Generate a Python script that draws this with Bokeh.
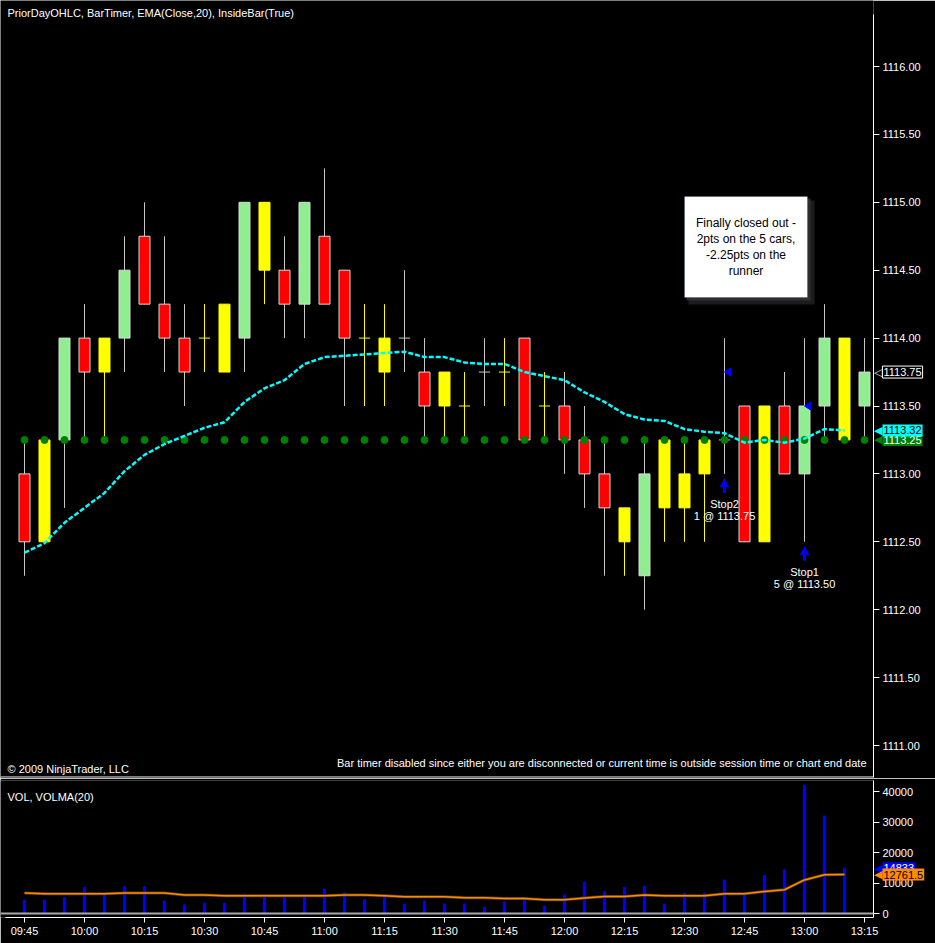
from bokeh.plotting import figure
from bokeh.layouts import column
from bokeh.models import (Range1d, FixedTicker, PrintfTickFormatter, Label, BoxAnnotation,
                          Span, Arrow, NormalHead, ColumnDataSource)
from bokeh.core.properties import value
from bokeh.embed import file_html
from bokeh.resources import INLINE

# ---------------- data ----------------
opens = [1113.00, 1112.50, 1113.25, 1114.00, 1114.00, 1114.00, 1114.75, 1114.25, 1114.00, 1114.00,
         1113.75, 1114.00, 1115.00, 1114.50, 1114.25, 1114.75, 1114.50, 1114.00, 1114.00, 1114.00,
         1113.75, 1113.75, 1113.50, 1113.75, 1113.75, 1114.00, 1113.50, 1113.50, 1113.25, 1113.00,
         1112.75, 1112.25, 1113.25, 1113.00, 1113.25, 1113.25, 1113.50, 1113.50, 1113.50, 1113.00,
         1113.50, 1114.00, 1113.50]
highs = [1113.25, 1113.25, 1114.00, 1114.25, 1114.00, 1114.75, 1115.00, 1114.75, 1114.25, 1114.25,
         1114.25, 1115.00, 1115.00, 1114.75, 1115.00, 1115.25, 1114.50, 1114.25, 1114.25, 1114.50,
         1114.00, 1113.75, 1113.75, 1114.00, 1114.00, 1114.00, 1113.75, 1113.75, 1113.50, 1113.25,
         1112.75, 1113.25, 1113.25, 1113.25, 1113.25, 1114.00, 1113.50, 1113.50, 1113.75, 1114.00,
         1114.25, 1114.00, 1114.00]
lows = [1112.25, 1112.50, 1112.75, 1113.25, 1113.25, 1113.75, 1114.25, 1113.75, 1113.50, 1113.75,
        1113.75, 1113.75, 1114.25, 1114.00, 1114.00, 1114.25, 1113.50, 1113.50, 1113.50, 1113.75,
        1113.25, 1113.25, 1113.25, 1113.50, 1113.50, 1113.25, 1113.25, 1113.00, 1112.75, 1112.25,
        1112.25, 1112.00, 1112.50, 1112.50, 1112.50, 1113.00, 1112.50, 1112.50, 1113.00, 1112.50,
        1113.25, 1113.25, 1113.25]
closes = [1112.50, 1113.25, 1114.00, 1113.75, 1113.75, 1114.50, 1114.25, 1114.00, 1113.75, 1114.00,
          1114.25, 1115.00, 1114.50, 1114.25, 1115.00, 1114.25, 1114.00, 1114.00, 1113.75, 1114.00,
          1113.50, 1113.50, 1113.50, 1113.75, 1113.75, 1113.25, 1113.50, 1113.25, 1113.00, 1112.75,
          1112.50, 1113.00, 1112.75, 1112.75, 1113.00, 1113.25, 1112.50, 1112.50, 1113.00, 1113.50,
          1114.00, 1113.25, 1113.75]
inside_bar = [0, 1, 0, 0, 1, 0, 0, 0, 0, 1,
              1, 0, 1, 0, 0, 0, 0, 1, 1, 0,
              0, 1, 1, 0, 1, 0, 1, 0, 0, 0,
              1, 0, 1, 1, 1, 0, 0, 1, 0, 0,
              0, 1, 0]
prior_day_level = 1113.25
ema20 = [1112.42, 1112.49, 1112.64, 1112.75, 1112.86, 1113.02, 1113.14, 1113.22, 1113.28, 1113.34,
         1113.38, 1113.53, 1113.63, 1113.69, 1113.81, 1113.86, 1113.87, 1113.88, 1113.89, 1113.90,
         1113.86, 1113.86, 1113.82, 1113.81, 1113.81, 1113.75, 1113.72, 1113.69, 1113.60, 1113.53,
         1113.44, 1113.40, 1113.39, 1113.33, 1113.31, 1113.30, 1113.23, 1113.25, 1113.23, 1113.26,
         1113.33, 1113.32]
volume = [4400, 4400, 5200, 8500, 6100, 8800, 8800, 4100, 2800, 3400,
          3400, 6400, 5400, 5200, 5400, 8000, 6800, 4500, 6100, 3100,
          4100, 3100, 3100, 2100, 3800, 4400, 2400, 6100, 10300, 7100,
          8500, 9000, 3100, 6700, 6700, 11000, 6100, 12500, 14300, 42000,
          32000, 14833]
volma20 = [6700, 6500, 6500, 6500, 6500, 6700, 6700, 6700, 6100, 6100,
           5800, 5800, 5800, 5800, 5800, 5800, 6100, 6100, 5800, 5500,
           5500, 5500, 5200, 5200, 4900, 4900, 4500, 4500, 5100, 5600,
           5600, 6100, 5800, 5800, 5800, 6500, 6500, 7200, 7800, 11000,
           12700, 12761.5]
time_labels = ["09:45", "10:00", "10:15", "10:30", "10:45", "11:00", "11:15", "11:30",
               "11:45", "12:00", "12:15", "12:30", "12:45", "13:00", "13:15"]
price_ticks = [1111.00, 1111.50, 1112.00, 1112.50, 1113.00, 1113.50,
               1114.00, 1114.50, 1115.00, 1115.50, 1116.00]
vol_ticks = [0, 10000, 20000, 30000, 40000]
exec_bars = [35, 39]
exec_prices = [1113.75, 1113.50]
exec_names = ["Stop2", "Stop1"]
exec_qty = [1, 5]
note_lines = ["Finally closed out -", "2pts on the 5 cars,", "-2.25pts on the", "runner"]

# ---------------- geometry ----------------
FONT = "Liberation Sans"
W = 935
AX = 873                        # x of the right axis line
PXB = 20.0                      # px per bar
X0 = -24 / PXB                  # frames start at x=0, first bar at x=24
X1 = X0 + AX / PXB
PPP = 135.8                     # px per price point
P_TOP = 1111 + 745 / PPP        # price frame covers y 0..777
P_BOT = 1111 - (777 - 745) / PPP
VPP = 30.5 / 10000.0            # px per contract
V_TOP = (913 - 780) / VPP       # volume frame covers y 780..917
V_BOT = -(917 - 913) / VPP
X_EDGE = X1 - 0.002             # anchor just inside the frame for axis markers


def sx2x(sx):
    return X0 + sx / PXB


def sy2p(sy):
    return P_TOP - sy / PPP


def sy2v(sy):
    return V_TOP - (sy - 780) / VPP


n = len(opens)
idx = list(range(n))


def style_axis(ax, tick_out, standoff):
    ax.axis_line_color = "white"
    ax.major_tick_line_color = "white"
    ax.major_tick_in = 0
    ax.major_tick_out = tick_out
    ax.minor_tick_line_color = None
    ax.major_label_standoff = standoff
    ax.major_label_text_color = "white"
    ax.major_label_text_font = FONT
    ax.major_label_text_font_size = "11px"


def axis_marker(fig, yv, fill, line, tcol, text, tip="\u25c0", tipcol=None):
    r1 = fig.text(x=[X_EDGE], y=[yv], text=[tip], x_offset=9, text_align="right",
                  text_baseline="middle", text_color=tipcol or fill,
                  text_font=value("DejaVu Sans"), text_font_size="11px")
    r2 = fig.text(x=[X_EDGE], y=[yv], text=[text], x_offset=9, text_align="left",
                  text_baseline="middle", text_color=tcol, text_font=value(FONT),
                  text_font_size="11px", background_fill_color=fill,
                  border_line_color=line, padding=dict(x=1, y=2))
    r1.level = "overlay"
    r2.level = "overlay"


xr = Range1d(X0, X1)

# ---------------- price panel ----------------
p = figure(width=W, height=778, output_backend="svg", toolbar_location=None,
           x_range=xr, y_range=Range1d(P_BOT, P_TOP),
           x_axis_location=None, y_axis_location="right",
           background_fill_color="black", border_fill_color="black",
           outline_line_color=None, min_border_left=0, min_border_right=W - AX,
           min_border_top=0, min_border_bottom=1)
p.grid.visible = False
ya = p.yaxis[0]
ya.ticker = FixedTicker(ticks=price_ticks)
ya.formatter = PrintfTickFormatter(format="%.2f")
ya.bounds = (P_BOT, sy2p(14))
style_axis(ya, 6, 3)

wick_col, body_fill, body_line = [], [], []
for o, c, ins in zip(opens, closes, inside_bar):
    if ins:
        wick_col.append("#ffff00"); body_fill.append("#ffff00"); body_line.append("#ffff00")
    elif c > o:
        wick_col.append("#c8c8c8"); body_fill.append("#90ee90"); body_line.append("#d8d8d8")
    elif c < o:
        wick_col.append("#c8c8c8"); body_fill.append("#ff0000"); body_line.append("#d8d8d8")
    else:
        wick_col.append("#c8c8c8"); body_fill.append("#c8c8c8"); body_line.append("#c8c8c8")

p.segment(x0=idx, x1=idx, y0=lows, y1=highs, line_color=wick_col, line_width=1)

body = [i for i in idx if opens[i] != closes[i]]
src = ColumnDataSource(dict(
    x=body,
    top=[max(opens[i], closes[i]) for i in body],
    bottom=[min(opens[i], closes[i]) for i in body],
    fill=[body_fill[i] for i in body],
    line=[body_line[i] for i in body]))
p.vbar(x="x", top="top", bottom="bottom", width=0.55, fill_color="fill",
       line_color="line", line_width=1, source=src)

doji = [i for i in idx if opens[i] == closes[i]]
p.segment(x0=[i - 0.28 for i in doji], x1=[i + 0.28 for i in doji],
          y0=[opens[i] for i in doji], y1=[opens[i] for i in doji],
          line_color=[body_line[i] for i in doji], line_width=1)

p.scatter(x=idx, y=[prior_day_level] * n, size=7, color="#008000")
p.line(x=list(range(len(ema20))), y=ema20, line_color="#00ffff", line_width=2.5, line_dash="5 2")

# executions: left-pointing triangles at the fill price, arrows and texts below the bar
tri_xs = [[b, b + 6 / PXB, b + 6 / PXB] for b in exec_bars]
tri_ys = [[pr, pr + 4 / PPP, pr - 4 / PPP] for pr in exec_prices]
p.patches(xs=tri_xs, ys=tri_ys, fill_color="#0000ff", line_color="#0000ff")
for b, pr, nm, q in zip(exec_bars, exec_prices, exec_names, exec_qty):
    lo = lows[b]
    p.add_layout(Arrow(end=NormalHead(size=8, fill_color="#0000ff", line_color="#0000ff"),
                       x_start=b, y_start=lo - 19 / PPP, x_end=b, y_end=lo - 5 / PPP,
                       line_color="#0000ff", line_width=3))
    p.add_layout(Label(x=b, y=lo, y_offset=-30, text=nm, text_align="center",
                       text_baseline="middle", text_color="white", text_font=FONT,
                       text_font_size="11px"))
    p.add_layout(Label(x=b, y=lo, y_offset=-42, text=f"{q} @ {pr:.2f}", text_align="center",
                       text_baseline="middle", text_color="white", text_font=FONT,
                       text_font_size="11px"))

# note box with a soft shadow
p.add_layout(BoxAnnotation(left=sx2x(688), right=sx2x(814), top=sy2p(200), bottom=sy2p(304),
                           fill_color="#1c1c1c", fill_alpha=1, line_color=None))
p.add_layout(BoxAnnotation(left=sx2x(686), right=sx2x(810), top=sy2p(198), bottom=sy2p(300),
                           fill_color="#2e2e2e", fill_alpha=1, line_color=None))
p.add_layout(BoxAnnotation(left=sx2x(684), right=sx2x(807), top=sy2p(196), bottom=sy2p(297),
                           fill_color="white", fill_alpha=1, line_color="#1e3c78", line_width=1))
for k, t in enumerate(note_lines):
    p.add_layout(Label(x=sx2x(745.5), y=sy2p(222 + 16 * k), text=t, text_align="center",
                       text_baseline="middle", text_color="black", text_font=FONT,
                       text_font_size="12px"))

# header / footer texts
p.add_layout(Label(x=sx2x(7), y=sy2p(12), text="PriorDayOHLC, BarTimer, EMA(Close,20), InsideBar(True)",
                   text_baseline="middle", text_color="white", text_font=FONT, text_font_size="11px"))
p.add_layout(Label(x=sx2x(7), y=sy2p(768), text="\u00a9 2009 NinjaTrader, LLC",
                   text_baseline="middle", text_color="white", text_font=FONT, text_font_size="11px"))
p.add_layout(Label(x=sx2x(866), y=sy2p(762),
                   text="Bar timer disabled since either you are disconnected or current time is outside session time or chart end date",
                   text_align="right", text_baseline="middle", text_color="white", text_font=FONT,
                   text_font_size="11px"))
# panel separator
p.add_layout(Span(location=P_BOT + 0.5 / PPP, dimension="width", line_color="white", line_width=1))

axis_marker(p, closes[-1], "black", "white", "white", f"{closes[-1]:.2f}",
            tip="\u25c1", tipcol="white")
axis_marker(p, prior_day_level, "#008000", None, "white", f"{prior_day_level:.2f}")
axis_marker(p, ema20[-1], "#00ffff", None, "black", f"{ema20[-1]:.2f}")

# ---------------- volume panel ----------------
v = figure(width=W, height=165, output_backend="svg", toolbar_location=None,
           x_range=xr, y_range=Range1d(V_BOT, V_TOP),
           x_axis_location="below", y_axis_location="right",
           background_fill_color="black", border_fill_color="black",
           outline_line_color=None, min_border_left=0, min_border_right=W - AX,
           min_border_top=2, min_border_bottom=26)
v.grid.visible = False
vy = v.yaxis[0]
vy.ticker = FixedTicker(ticks=vol_ticks)
vy.formatter = PrintfTickFormatter(format="%d")
style_axis(vy, 6, 3)
vx = v.xaxis[0]
vx.ticker = FixedTicker(ticks=[3 * k for k in range(len(time_labels))])
vx.major_label_overrides = {3 * k: lab for k, lab in enumerate(time_labels)}
vx.bounds = (sx2x(5), X1)
style_axis(vx, 5, 2)

v.add_layout(Span(location=0, dimension="width", line_color="#a8a8a8", line_width=2))
v.vbar(x=list(range(len(volume))), top=volume, bottom=0, width=0.11, color="#0000ff")
v.line(x=list(range(len(volma20))), y=volma20, line_color="#5a3808", line_width=3)
v.line(x=list(range(len(volma20))), y=volma20, line_color="#ff8c00", line_width=1.5)

v.add_layout(Label(x=sx2x(7), y=sy2v(796), text="VOL, VOLMA(20)", text_baseline="middle",
                   text_color="white", text_font=FONT, text_font_size="11px"))
axis_marker(v, volume[-1], "#0000ff", None, "white", f"{volume[-1]}")
axis_marker(v, volma20[-1], "#ff8c00", None, "black", f"{volma20[-1]}")

layout = column(p, v, spacing=0)
open("out.html", "w").write(file_html(layout, INLINE))
